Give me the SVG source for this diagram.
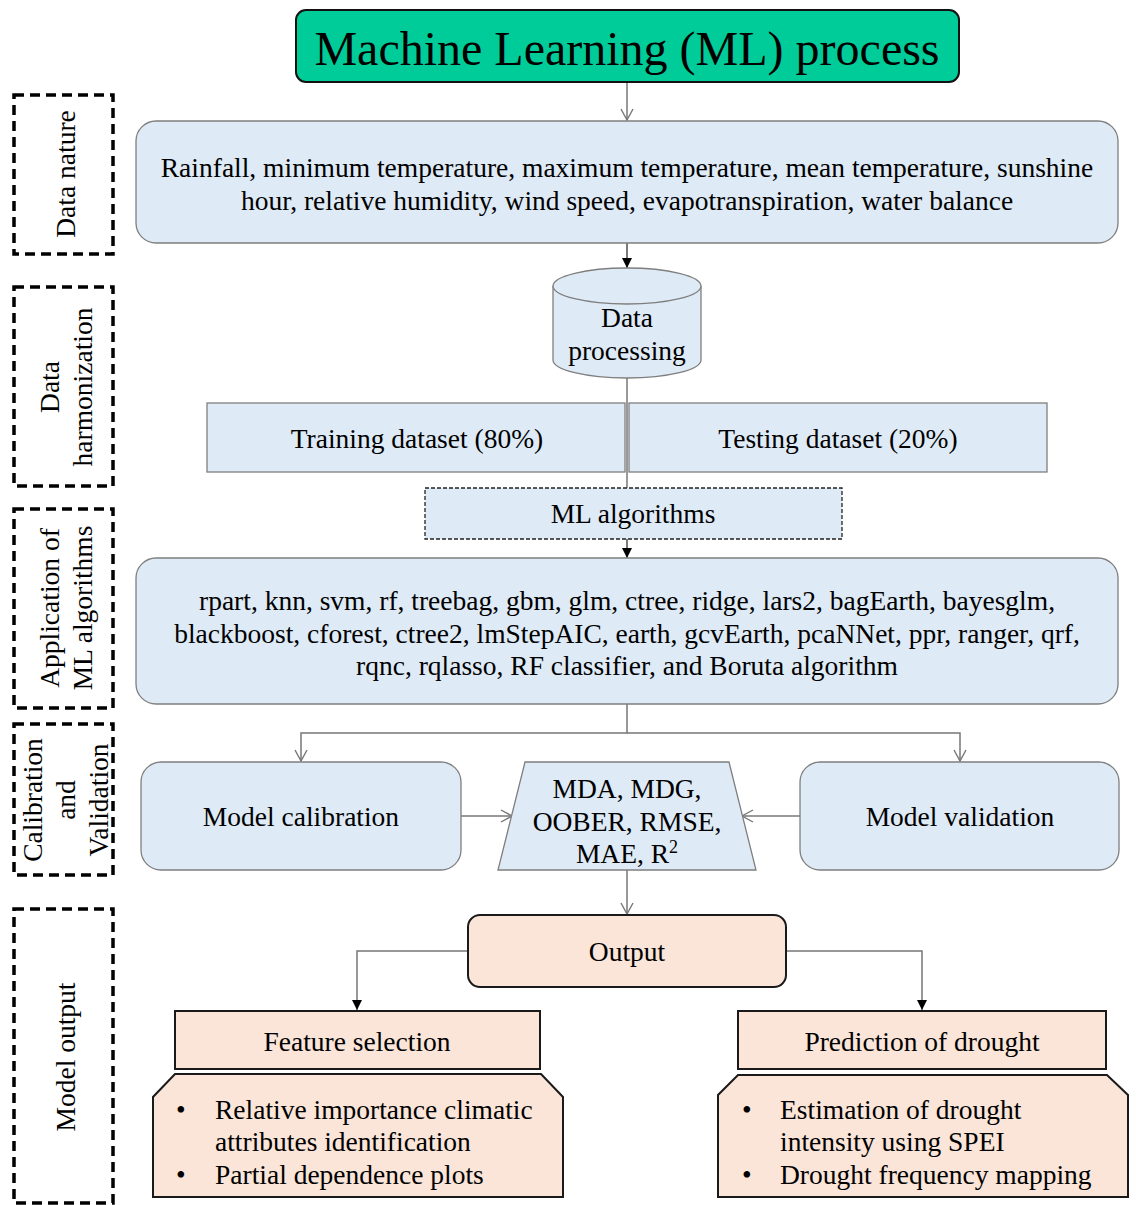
<svg xmlns="http://www.w3.org/2000/svg" width="1136" height="1205" viewBox="0 0 1136 1205">
<defs>
<style>
text{font-family:"Liberation Serif","Times New Roman",serif;fill:#000;}
.t{font-size:27.5px;text-anchor:middle;}
.tl{font-size:27.5px;}
.blue{fill:#DEEAF6;stroke:#7f7f7f;stroke-width:1.3;}
.peach{fill:#FAE5D8;stroke:#1a1a1a;stroke-width:2;}
.side{fill:none;stroke:#000;stroke-width:3.5;stroke-dasharray:10,6;}
.con{fill:none;stroke:#777;stroke-width:1.5;}
.conk{fill:none;stroke:#333;stroke-width:1.3;}
</style>
<marker id="open" markerWidth="14" markerHeight="14" refX="12" refY="7" orient="auto" markerUnits="userSpaceOnUse" viewBox="0 0 14 14">
<path d="M1,1 L12,7 L1,13" fill="none" stroke="#777" stroke-width="1.4"/>
</marker>
<marker id="fill" markerWidth="12" markerHeight="12" refX="11" refY="6" orient="auto" markerUnits="userSpaceOnUse" viewBox="0 0 12 12">
<path d="M1,1 L11,6 L1,11 Z" fill="#000"/>
</marker>
</defs>

<g id="side-labels">
<g id="side-data-nature"><rect class="side" x="14" y="95" width="99" height="159"/><text class="t" transform="translate(75,174) rotate(-90)">Data nature</text></g>
<g id="side-data-harmonization"><rect class="side" x="14" y="287" width="99" height="199"/><text class="t" transform="translate(59,387) rotate(-90)">Data</text><text class="t" transform="translate(92,387) rotate(-90)">harmonization</text></g>
<g id="side-application"><rect class="side" x="14" y="509" width="99" height="199"/><text class="t" transform="translate(59,608) rotate(-90)">Application of</text><text class="t" transform="translate(92,608) rotate(-90)">ML algorithms</text></g>
<g id="side-calibration"><rect class="side" x="14" y="724" width="99" height="151"/><text class="t" transform="translate(42,800) rotate(-90)">Calibration</text><text class="t" transform="translate(75,800) rotate(-90)">and</text><text class="t" transform="translate(108,800) rotate(-90)">Validation</text></g>
<g id="side-model-output"><rect class="side" x="14" y="909" width="99" height="294"/><text class="t" transform="translate(75,1057) rotate(-90)">Model output</text></g>
</g>

<g id="connectors">
<line class="con" x1="627" y1="82" x2="627" y2="120" marker-end="url(#open)"/>
<line class="conk" x1="627" y1="243" x2="627" y2="268" marker-end="url(#fill)"/>
<line class="con" x1="627" y1="378" x2="627" y2="488"/>
<line class="conk" x1="627" y1="539" x2="627" y2="558" marker-end="url(#fill)"/>
<path class="con" d="M627,704 V733 H301 V761" marker-end="url(#open)"/>
<path class="con" d="M627,733 H960 V761" marker-end="url(#open)"/>
<line class="con" x1="461" y1="816" x2="512" y2="816" marker-end="url(#open)"/>
<line class="con" x1="800" y1="816" x2="742" y2="816" marker-end="url(#open)"/>
<line class="con" x1="627" y1="870" x2="627" y2="914" marker-end="url(#open)"/>
<path class="con" d="M468,951 H357 V1010" marker-end="url(#fill)"/>
<path class="con" d="M786,951 H922 V1010" marker-end="url(#fill)"/>
</g>

<g id="title">
<rect x="296" y="10" width="663" height="72" rx="10" fill="#00CC99" stroke="#111" stroke-width="2"/>
<text x="627" y="65" style="font-size:48px;text-anchor:middle">Machine Learning (ML) process</text>
</g>

<g id="data-nature">
<rect class="blue" x="136" y="121" width="982" height="122" rx="20"/>
<text class="t" x="627" y="177">Rainfall, minimum temperature, maximum temperature, mean temperature, sunshine</text>
<text class="t" x="627" y="210">hour, relative humidity, wind speed, evapotranspiration, water balance</text>
</g>

<g id="data-processing">
<path class="blue" d="M553,286 V360 A74,18 0 0 0 701,360 V286"/>
<ellipse class="blue" cx="627" cy="286" rx="74" ry="18"/>
<text class="t" x="627" y="327">Data</text>
<text class="t" x="627" y="360">processing</text>
</g>

<g id="training">
<rect class="blue" x="207" y="403" width="418" height="69"/>
<text class="t" x="417" y="448">Training dataset (80%)</text>
</g>
<g id="testing">
<rect class="blue" x="629" y="403" width="418" height="69"/>
<text class="t" x="838" y="448">Testing dataset (20%)</text>
</g>

<g id="ml-algorithms">
<rect x="425" y="488" width="417" height="51" fill="#DEEAF6" stroke="#222" stroke-width="1.3" stroke-dasharray="4,2"/>
<text class="t" x="633" y="523">ML algorithms</text>
</g>

<g id="algorithms-list">
<rect class="blue" x="136" y="558" width="982" height="146" rx="20"/>
<text class="t" x="627" y="610">rpart, knn, svm, rf, treebag, gbm, glm, ctree, ridge, lars2, bagEarth, bayesglm,</text>
<text class="t" x="627" y="643">blackboost, cforest, ctree2, lmStepAIC, earth, gcvEarth, pcaNNet, ppr, ranger, qrf,</text>
<text class="t" x="627" y="675">rqnc, rqlasso, RF classifier, and Boruta algorithm</text>
</g>

<g id="model-calibration">
<rect class="blue" x="141" y="762" width="320" height="108" rx="20"/>
<text class="t" x="301" y="826">Model calibration</text>
</g>

<g id="metrics">
<path class="blue" d="M525,762 H729 L756,870 H498 Z"/>
<text class="t" x="627" y="798">MDA, MDG,</text>
<text class="t" x="627" y="831">OOBER, RMSE,</text>
<text class="t" x="627" y="863">MAE, R<tspan dy="-10" style="font-size:18px">2</tspan></text>
</g>

<g id="model-validation">
<rect class="blue" x="800" y="762" width="319" height="108" rx="20"/>
<text class="t" x="960" y="826">Model validation</text>
</g>

<g id="output">
<rect class="peach" x="468" y="915" width="318" height="72" rx="12"/>
<text class="t" x="627" y="961">Output</text>
</g>

<g id="feature-selection">
<rect class="peach" x="175" y="1011" width="365" height="58"/>
<text class="t" x="357" y="1051">Feature selection</text>
</g>
<g id="feature-details">
<path class="peach" d="M175,1074 H541 L563,1097 V1197 H153 V1097 Z"/>
<text class="tl" x="176" y="1119">•</text>
<text class="tl" x="215" y="1119">Relative importance climatic</text>
<text class="tl" x="215" y="1151">attributes identification</text>
<text class="tl" x="176" y="1184">•</text>
<text class="tl" x="215" y="1184">Partial dependence plots</text>
</g>

<g id="prediction">
<rect class="peach" x="738" y="1011" width="368" height="58"/>
<text class="t" x="922" y="1051">Prediction of drought</text>
</g>
<g id="prediction-details">
<path class="peach" d="M738,1075 H1107 L1128,1095 V1197 H718 V1095 Z"/>
<text class="tl" x="742" y="1119">•</text>
<text class="tl" x="780" y="1119">Estimation of drought</text>
<text class="tl" x="780" y="1151">intensity using SPEI</text>
<text class="tl" x="742" y="1184">•</text>
<text class="tl" x="780" y="1184">Drought frequency mapping</text>
</g>
</svg>
